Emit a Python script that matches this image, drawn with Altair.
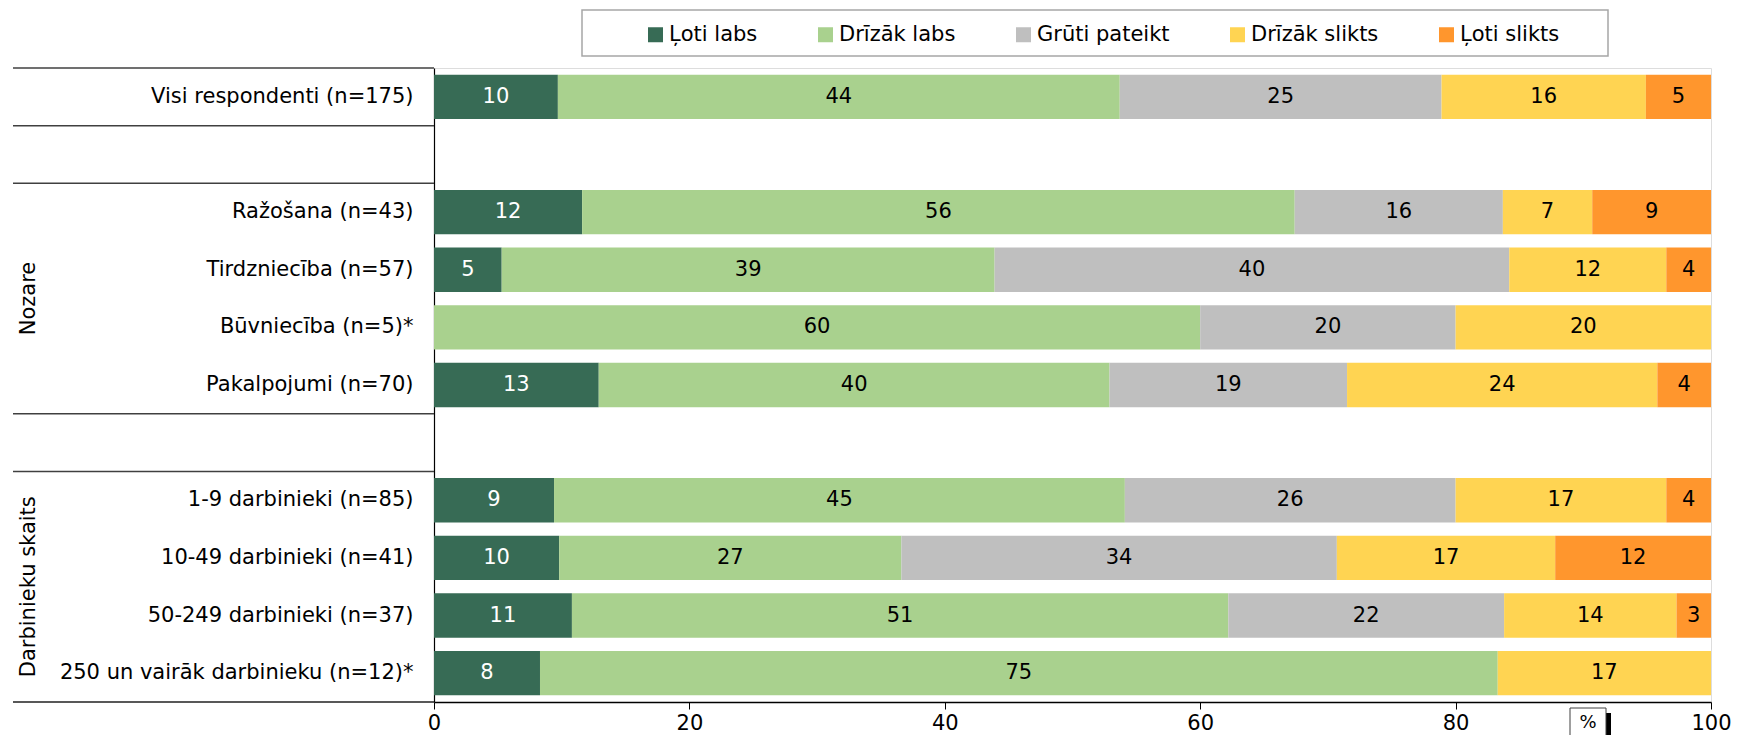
import altair as alt
import pandas as pd

FONT = "DejaVu Sans"

categories = ["Ļoti labs", "Drīzāk labs", "Grūti pateikt", "Drīzāk slikts", "Ļoti slikts"]
colors = ["#376B55", "#A9D18E", "#BFBFBF", "#FFD452", "#FF962D"]

rows = [
    "Visi respondenti (n=175)",
    " ",
    "Ražošana (n=43)",
    "Tirdzniecība (n=57)",
    "Būvniecība (n=5)*",
    "Pakalpojumi (n=70)",
    "  ",
    "1-9 darbinieki (n=85)",
    "10-49 darbinieki (n=41)",
    "50-249 darbinieki (n=37)",
    "250 un vairāk darbinieku (n=12)*",
]

# segment widths (%)
values = {
    "Visi respondenti (n=175)": [9.7, 44.0, 25.2, 16.0, 5.1],
    "Ražošana (n=43)": [11.6, 55.8, 16.3, 7.0, 9.3],
    "Tirdzniecība (n=57)": [5.3, 38.6, 40.3, 12.3, 3.5],
    "Būvniecība (n=5)*": [0, 60.0, 20.0, 20.0, 0],
    "Pakalpojumi (n=70)": [12.9, 40.0, 18.6, 24.3, 4.2],
    "1-9 darbinieki (n=85)": [9.4, 44.7, 25.9, 16.5, 3.5],
    "10-49 darbinieki (n=41)": [9.8, 26.8, 34.1, 17.1, 12.2],
    "50-249 darbinieki (n=37)": [10.8, 51.4, 21.6, 13.5, 2.7],
    "250 un vairāk darbinieku (n=12)*": [8.3, 75.0, 0, 16.7, 0],
}
# displayed labels
labels = {
    "Visi respondenti (n=175)": [10, 44, 25, 16, 5],
    "Ražošana (n=43)": [12, 56, 16, 7, 9],
    "Tirdzniecība (n=57)": [5, 39, 40, 12, 4],
    "Būvniecība (n=5)*": [0, 60, 20, 20, 0],
    "Pakalpojumi (n=70)": [13, 40, 19, 24, 4],
    "1-9 darbinieki (n=85)": [9, 45, 26, 17, 4],
    "10-49 darbinieki (n=41)": [10, 27, 34, 17, 12],
    "50-249 darbinieki (n=37)": [11, 51, 22, 14, 3],
    "250 un vairāk darbinieku (n=12)*": [8, 75, 0, 17, 0],
}

group_titles = ["Nozare", "Darbinieku skaits"]
group_anchor_rows = ["Tirdzniecība (n=57)", "10-49 darbinieki (n=41)"]

# rows whose top edge carries a separator line, and the row whose bottom edge does
sep_top_rows = ["Visi respondenti (n=175)", " ", "Ražošana (n=43)", "  ", "1-9 darbinieki (n=85)"]
sep_bottom_rows = ["250 un vairāk darbinieku (n=12)*"]

x_ticks = [0, 20, 40, 60, 80, 100]

recs = []
for r, vals in values.items():
    for i, (c, v) in enumerate(zip(categories, vals)):
        if v > 0:
            recs.append({"row": r, "cat": c, "order": i, "value": v, "lab": labels[r][i]})
df = pd.DataFrame(recs)

W, H = 1277, 634
half_step = H / len(rows) / 2

y_enc = alt.Y(
    "row:N",
    scale=alt.Scale(domain=rows, paddingInner=0.23, paddingOuter=0.115),
    axis=alt.Axis(title=None, ticks=False, labelFontSize=21, labelFont=FONT, labelColor="black",
                  labelPadding=21, domainColor="black", domainWidth=1.2, labelLimit=500),
)

base = alt.Chart(df).transform_stack(
    stack="value", groupby=["row"], sort=[alt.SortField("order")], as_=["x0", "x1"]
).transform_calculate(mid="(datum.x0 + datum.x1) / 2")

xscale = alt.Scale(domain=[0, 100], nice=False)
x_axis = alt.Axis(values=x_ticks, title=None, grid=False, labelFontSize=21, labelFont=FONT,
                  labelColor="black", tickColor="black", tickSize=7, domainColor="black",
                  domainWidth=1.5, labelPadding=3, labelFlush=False)

bars = base.mark_bar(strokeWidth=0).encode(
    x=alt.X("x0:Q", scale=xscale, axis=x_axis),
    x2="x1:Q",
    y=y_enc,
    color=alt.Color("cat:N", scale=alt.Scale(domain=categories, range=colors),
                    legend=alt.Legend(title=None, orient="none", legendX=211, legendY=-44,
                                      direction="horizontal", symbolType="square", symbolSize=225,
                                      symbolStrokeWidth=0, symbolOpacity=1, labelFontSize=21,
                                      labelFont=FONT, labelColor="black", labelOffset=3,
                                      columnPadding=57, padding=0, labelLimit=400)),
    order=alt.Order("order:Q"),
)

texts = base.mark_text(fontSize=21, font=FONT, align="center", baseline="middle").encode(
    x=alt.X("mid:Q", scale=xscale, axis=x_axis),
    y=y_enc,
    text=alt.Text("lab:Q"),
    color=alt.condition(alt.datum.cat == "Ļoti labs", alt.value("white"), alt.value("black")),
)

sep_top = alt.Chart(pd.DataFrame({"row": sep_top_rows})).mark_rule(
    color="#404040", strokeWidth=1.5, yOffset=-half_step
).encode(y=y_enc, x=alt.value(-421), x2=alt.value(0))

sep_bottom = alt.Chart(pd.DataFrame({"row": sep_bottom_rows})).mark_rule(
    color="#202020", strokeWidth=1.5, yOffset=half_step
).encode(y=y_enc, x=alt.value(-421), x2=alt.value(0))

groups = alt.Chart(pd.DataFrame({"row": group_anchor_rows, "title": group_titles})).mark_text(
    angle=270, fontSize=21, font=FONT, color="black", align="center", baseline="middle",
    yOffset=half_step
).encode(y=y_enc, x=alt.value(-405), text="title:N")

legend_box = alt.Chart(pd.DataFrame({"k": [0]})).mark_rect(
    filled=False, stroke="#A6A6A6", strokeWidth=1.5
).encode(x=alt.value(148), x2=alt.value(1174), y=alt.value(-58), y2=alt.value(-12))

pct_shadow = alt.Chart(pd.DataFrame({"k": [0]})).mark_rect(color="black").encode(
    x=alt.value(1172), x2=alt.value(1177), y=alt.value(645), y2=alt.value(700))
pct_box = alt.Chart(pd.DataFrame({"k": [0]})).mark_rect(
    fill="white", stroke="#404040", strokeWidth=1).encode(
    x=alt.value(1136), x2=alt.value(1172), y=alt.value(640), y2=alt.value(700))
pct_text = alt.Chart(pd.DataFrame({"t": ["%"]})).mark_text(
    fontSize=18, font=FONT, color="black", align="center", baseline="middle").encode(
    x=alt.value(1154), y=alt.value(655), text="t:N")

chart = alt.layer(
    legend_box, bars, texts, sep_top, sep_bottom, groups, pct_shadow, pct_box, pct_text
).properties(
    width=W, height=H,
    autosize=alt.AutoSizeParams(type="none"),
    padding={"left": 426, "top": 60, "right": 20, "bottom": 33},
).configure_view(stroke=None).configure(background="white")

chart.save("out.html", embed_options={"renderer": "svg", "actions": False})
